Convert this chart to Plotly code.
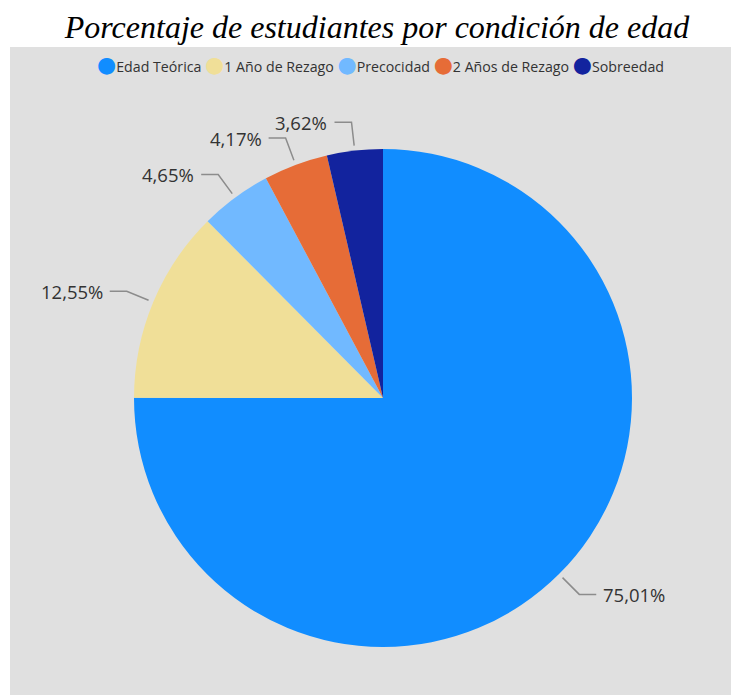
import math
import plotly.graph_objects as go

# datos
categorias = ['Edad Teórica', '1 Año de Rezago', 'Precocidad', '2 Años de Rezago', 'Sobreedad']
porcentajes = [75.01, 12.55, 4.65, 4.17, 3.62]
colores = ['#118DFF', '#F0DF98', '#71B9FF', '#E66C37', '#12239E']

W, H = 731, 695
CX, CY, R = 383, 398, 249  # centro y radio del pie en pixeles


def px(x, y):
    return x / W, 1 - y / H


fig = go.Figure(go.Pie(
    labels=categorias, values=porcentajes, sort=False, direction='clockwise', rotation=0,
    marker=dict(colors=colores, line=dict(width=0)),
    textinfo='none', hoverinfo='label+percent', showlegend=False,
    domain=dict(x=[(CX - R) / W, (CX + R) / W], y=[1 - (CY + R) / H, 1 - (CY - R) / H]),
))

shapes = [dict(type='rect', xref='paper', yref='paper', x0=10 / W, x1=1, y0=0, y1=1 - 47 / H,
               fillcolor='#E0E0E0', line=dict(width=0), layer='below')]
annotations = []

# etiquetas con lineas guia, calculadas desde los porcentajes
total = sum(porcentajes)
acum = 0
for v in porcentajes:
    f = (acum + v / 2) / total
    acum += v
    ang = 2 * math.pi * f
    dx, dy = math.sin(ang), -math.cos(ang)
    lado = 1 if dx >= 0 else -1
    x0, y0 = CX + 1.02 * R * dx, CY + 1.02 * R * dy
    x1, y1 = CX + 1.115 * R * dx, CY + 1.115 * R * dy
    x2 = x1 + lado * 17
    pts = [px(x0, y0), px(x1, y1), px(x2, y1)]
    path = 'M {} {} L {} {} L {} {}'.format(*[c for p in pts for c in p])
    shapes.append(dict(type='path', xref='paper', yref='paper', path=path,
                       line=dict(color='#8C8C8C', width=1.5)))
    tx, ty = px(x2 + lado * 5, y1)
    annotations.append(dict(x=tx, y=ty, xref='paper', yref='paper', showarrow=False,
                            text=f'{v:.2f}'.replace('.', ',') + '%',
                            xanchor='left' if lado > 0 else 'right', yanchor='middle',
                            font=dict(family='Open Sans', size=18.5, color='#333333')))

# leyenda manual con circulos
items = []
for c, col in zip(categorias, colores):
    items.append(f'<span style="color:{col};font-size:22px;font-family:DejaVu Sans">●</span>{c}')
lx, ly = px(380, 65)
annotations.append(dict(x=lx, y=ly, xref='paper', yref='paper', showarrow=False,
                        text=' '.join(items), xanchor='center', yanchor='middle',
                        font=dict(family='Open Sans', size=14.2, color='#333333')))

fig.update_layout(
    width=W, height=H,
    margin=dict(l=0, r=0, t=0, b=0),
    paper_bgcolor='white',
    title=dict(text='Porcentaje de estudiantes por condición de edad', x=377 / W, xanchor='center',
               y=1 - 27 / H, yanchor='middle',
               font=dict(family='Liberation Serif', size=32, color='black', style='italic')),
    shapes=shapes,
    annotations=annotations,
)

fig.write_html('out.html', config={'displayModeBar': False},
               post_script="document.body.style.margin='0';")
